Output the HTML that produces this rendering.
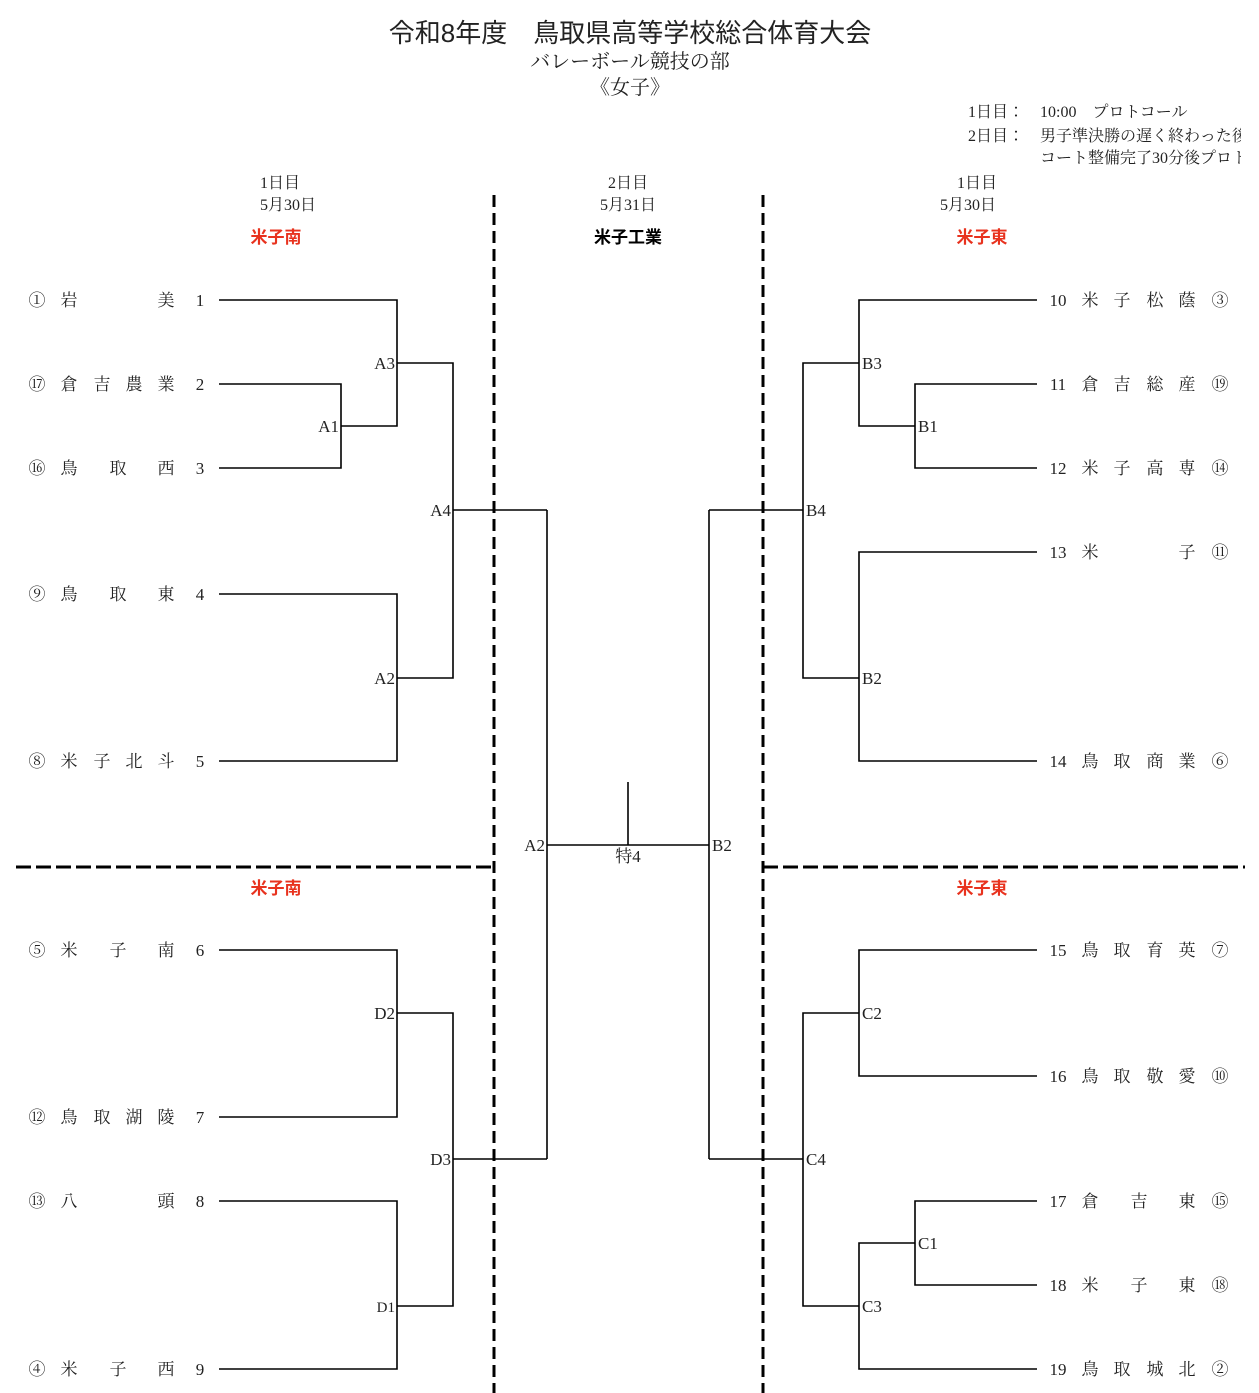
<!DOCTYPE html>
<html><head><meta charset="utf-8"><style>
html,body{margin:0;padding:0;background:#fff;width:1259px;height:1393px;overflow:hidden}
svg{display:block}
text{font-family:"Liberation Serif","Noto Serif CJK JP","Noto Serif CJK SC",serif;fill:#222}
.s{font-family:"Liberation Sans","Noto Sans CJK JP",sans-serif}
.t{font-size:17px}
.r{fill:#e8321e;font-weight:bold;font-family:"Liberation Sans","Noto Sans CJK JP",sans-serif;font-size:17px}
.l{font-size:16px}
</style></head><body>
<svg width="1259" height="1393" viewBox="0 0 1259 1393" xmlns="http://www.w3.org/2000/svg">
<text x="630" y="42" text-anchor="middle" class="s" font-size="26">令和8年度　鳥取県高等学校総合体育大会</text>
<text x="630" y="68" text-anchor="middle" font-size="20">バレーボール競技の部</text>
<text x="630" y="94" text-anchor="middle" font-size="20">《女子》</text>
<text x="968" y="117" font-size="16">1日目：　10:00　プロトコール</text>
<text x="968" y="141" font-size="16">2日目：　男子準決勝の遅く終わった後</text>
<text x="1040" y="163" font-size="16">コート整備完了30分後プロトコール</text>
<rect x="1241" y="95" width="18" height="80" fill="#fff"/>

<g class="l" text-anchor="middle">
<text x="280" y="188">1日目</text><text x="288" y="210">5月30日</text>
<text x="628" y="188">2日目</text><text x="628" y="210">5月31日</text>
<text x="977" y="188">1日目</text><text x="968" y="210">5月30日</text>
</g>
<text x="276" y="243" text-anchor="middle" class="r">米子南</text>
<text x="628" y="243" text-anchor="middle" class="s" font-size="17" font-weight="bold" style="fill:#000">米子工業</text>
<text x="982" y="243" text-anchor="middle" class="r">米子東</text>
<text x="276" y="894" text-anchor="middle" class="r">米子南</text>
<text x="982" y="894" text-anchor="middle" class="r">米子東</text>

<g stroke="#000" stroke-width="3" stroke-dasharray="12 6" fill="none">
<line x1="494" y1="195" x2="494" y2="1393"/>
<line x1="763" y1="195" x2="763" y2="1393"/>
</g>
<g stroke="#000" stroke-width="3" stroke-dasharray="15 5" fill="none">
<line x1="16" y1="867" x2="494" y2="867"/>
<line x1="763" y1="867" x2="1245" y2="867"/>
</g>

<g stroke="#000" stroke-width="1.6" fill="none">
<!-- left top -->
<polyline points="219,300 397,300 397,426 341,426"/>
<polyline points="219,384 341,384 341,468 219,468"/>
<polyline points="397,363 453,363 453,678 397,678"/>
<polyline points="219,594 397,594 397,761 219,761"/>
<line x1="453" y1="510" x2="547" y2="510"/>
<!-- left bottom -->
<polyline points="219,950 397,950 397,1117 219,1117"/>
<polyline points="219,1201 397,1201 397,1369 219,1369"/>
<polyline points="397,1013 453,1013 453,1306 397,1306"/>
<line x1="453" y1="1159" x2="547" y2="1159"/>
<line x1="547" y1="510" x2="547" y2="1159"/>
<!-- final -->
<line x1="547" y1="845" x2="709" y2="845"/>
<line x1="628" y1="782" x2="628" y2="845"/>
<line x1="709" y1="510" x2="709" y2="1159"/>
<!-- right top -->
<polyline points="1037,300 859,300 859,426 915,426"/>
<polyline points="1037,384 915,384 915,468 1037,468"/>
<polyline points="859,363 803,363 803,678 859,678"/>
<polyline points="1037,552 859,552 859,761 1037,761"/>
<line x1="803" y1="510" x2="709" y2="510"/>
<!-- right bottom -->
<polyline points="1037,950 859,950 859,1076 1037,1076"/>
<polyline points="1037,1201 915,1201 915,1285 1037,1285"/>
<polyline points="915,1243 859,1243 859,1369 1037,1369"/>
<polyline points="859,1013 803,1013 803,1306 859,1306"/>
<line x1="803" y1="1159" x2="709" y2="1159"/>
</g>

<g class="t">
<text x="395" y="369" text-anchor="end">A3</text>
<text x="339" y="432" text-anchor="end">A1</text>
<text x="451" y="516" text-anchor="end">A4</text>
<text x="395" y="684" text-anchor="end">A2</text>
<text x="545" y="851" text-anchor="end">A2</text>
<text x="628" y="862" text-anchor="middle">特4</text>
<text x="712" y="851">B2</text>
<text x="395" y="1019" text-anchor="end">D2</text>
<text x="451" y="1165" text-anchor="end">D3</text>
<text x="395" y="1312" text-anchor="end" font-size="15">D1</text>
<text x="862" y="369">B3</text>
<text x="918" y="432">B1</text>
<text x="806" y="516">B4</text>
<text x="862" y="684">B2</text>
<text x="862" y="1019">C2</text>
<text x="806" y="1165">C4</text>
<text x="918" y="1249">C1</text>
<text x="862" y="1312">C3</text>
</g>

<g class="t" text-anchor="middle">
<!-- left teams -->
<text x="37" y="306">①</text><text x="69" y="306">岩</text><text x="166" y="306">美</text><text x="200" y="306">1</text>
<text x="37" y="390">⑰</text><text x="69" y="390">倉</text><text x="102" y="390">吉</text><text x="134" y="390">農</text><text x="166" y="390">業</text><text x="200" y="390">2</text>
<text x="37" y="474">⑯</text><text x="69" y="474">鳥</text><text x="118" y="474">取</text><text x="166" y="474">西</text><text x="200" y="474">3</text>
<text x="37" y="600">⑨</text><text x="69" y="600">鳥</text><text x="118" y="600">取</text><text x="166" y="600">東</text><text x="200" y="600">4</text>
<text x="37" y="767">⑧</text><text x="69" y="767">米</text><text x="102" y="767">子</text><text x="134" y="767">北</text><text x="166" y="767">斗</text><text x="200" y="767">5</text>
<text x="37" y="956">⑤</text><text x="69" y="956">米</text><text x="118" y="956">子</text><text x="166" y="956">南</text><text x="200" y="956">6</text>
<text x="37" y="1123">⑫</text><text x="69" y="1123">鳥</text><text x="102" y="1123">取</text><text x="134" y="1123">湖</text><text x="166" y="1123">陵</text><text x="200" y="1123">7</text>
<text x="37" y="1207">⑬</text><text x="69" y="1207">八</text><text x="166" y="1207">頭</text><text x="200" y="1207">8</text>
<text x="37" y="1375">④</text><text x="69" y="1375">米</text><text x="118" y="1375">子</text><text x="166" y="1375">西</text><text x="200" y="1375">9</text>
<!-- right teams -->
<text x="1058" y="306">10</text><text x="1090" y="306">米</text><text x="1122" y="306">子</text><text x="1155" y="306">松</text><text x="1187" y="306">蔭</text><text x="1220" y="306">③</text>
<text x="1058" y="390">11</text><text x="1090" y="390">倉</text><text x="1122" y="390">吉</text><text x="1155" y="390">総</text><text x="1187" y="390">産</text><text x="1220" y="390">⑲</text>
<text x="1058" y="474">12</text><text x="1090" y="474">米</text><text x="1122" y="474">子</text><text x="1155" y="474">高</text><text x="1187" y="474">専</text><text x="1220" y="474">⑭</text>
<text x="1058" y="558">13</text><text x="1090" y="558">米</text><text x="1187" y="558">子</text><text x="1220" y="558">⑪</text>
<text x="1058" y="767">14</text><text x="1090" y="767">鳥</text><text x="1122" y="767">取</text><text x="1155" y="767">商</text><text x="1187" y="767">業</text><text x="1220" y="767">⑥</text>
<text x="1058" y="956">15</text><text x="1090" y="956">鳥</text><text x="1122" y="956">取</text><text x="1155" y="956">育</text><text x="1187" y="956">英</text><text x="1220" y="956">⑦</text>
<text x="1058" y="1082">16</text><text x="1090" y="1082">鳥</text><text x="1122" y="1082">取</text><text x="1155" y="1082">敬</text><text x="1187" y="1082">愛</text><text x="1220" y="1082">⑩</text>
<text x="1058" y="1207">17</text><text x="1090" y="1207">倉</text><text x="1139" y="1207">吉</text><text x="1187" y="1207">東</text><text x="1220" y="1207">⑮</text>
<text x="1058" y="1291">18</text><text x="1090" y="1291">米</text><text x="1139" y="1291">子</text><text x="1187" y="1291">東</text><text x="1220" y="1291">⑱</text>
<text x="1058" y="1375">19</text><text x="1090" y="1375">鳥</text><text x="1122" y="1375">取</text><text x="1155" y="1375">城</text><text x="1187" y="1375">北</text><text x="1220" y="1375">②</text>
</g>
</svg>
</body></html>
